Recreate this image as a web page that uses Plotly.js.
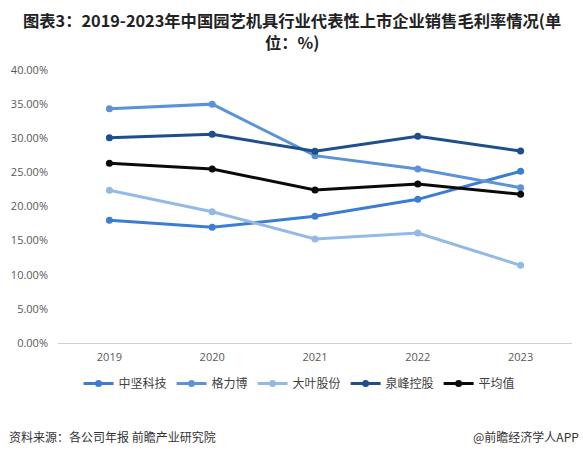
<!DOCTYPE html>
<html>
<head>
<meta charset="utf-8">
<script src="https://cdn.plot.ly/plotly-3.0.1.min.js"></script>
<style>html,body{margin:0;padding:0;background:#fff;}#chart{width:583px;height:456px;}</style>
</head>
<body>
<div id="chart"></div>
<script>
const years = ["2019", "2020", "2021", "2022", "2023"];
const zhongjian = [0.1798, 0.1695, 0.1856, 0.2105, 0.2516];
const gelibo = [0.3433, 0.3500, 0.2745, 0.2550, 0.2276];
const daye = [0.2237, 0.1924, 0.1524, 0.1612, 0.1138];
const quanfeng = [0.3008, 0.3057, 0.2808, 0.3028, 0.2813];
const average = [0.2633, 0.2549, 0.2242, 0.2330, 0.2179];
const seriesNames = ["中坚科技", "格力博", "大叶股份", "泉峰控股", "平均值"];
const seriesValues = [zhongjian, gelibo, daye, quanfeng, average];
const seriesColors = ["#3b7dd1", "#5c92d8", "#93bae6", "#1f4e8c", "#0a0a0a"];

const traces = seriesValues.map((v, i) => ({
  type: "scatter",
  mode: "lines+markers",
  name: seriesNames[i],
  x: years,
  y: v,
  line: {color: seriesColors[i], width: 3},
  marker: {color: seriesColors[i], size: 7}
}));

const cjk = '"Noto Sans CJK SC", "Noto Sans", sans-serif';
const num = '"Open Sans", "DejaVu Sans", sans-serif';
const pageCenter = (291.5 - 58) / 514;
const layout = {
  width: 583, height: 456,
  margin: {l: 58, r: 11, t: 70, b: 113},
  paper_bgcolor: "#ffffff", plot_bgcolor: "#ffffff",
  showlegend: true,
  legend: {
    orientation: "h", x: 0.04, xanchor: "left", y: -0.148, yanchor: "middle",
    font: {family: cjk, size: 12, color: "#404040"},
    itemwidth: 30, tracegroupgap: 0
  },
  xaxis: {
    type: "category", range: [-0.5, 4.5],
    showgrid: false, zeroline: false,
    showline: true, linecolor: "#d0d0d0", linewidth: 1,
    ticks: "", ticklabelstandoff: 4,
    tickfont: {family: num, size: 11, color: "#595959"},
    fixedrange: true
  },
  yaxis: {
    range: [0, 0.4], dtick: 0.05, tick0: 0,
    tickformat: ".2%",
    showgrid: false, zeroline: false, showline: false,
    ticks: "", ticklabelstandoff: 9,
    tickfont: {family: num, size: 11, color: "#595959"},
    fixedrange: true
  },
  annotations: [
    {text: "<b>图表3：2019-2023年中国园艺机具行业代表性上市企业销售毛利率情况(单</b>", xref: "paper", yref: "paper", x: pageCenter, xanchor: "center", y: 1 + 50/273, yanchor: "middle", showarrow: false, font: {family: cjk, size: 16.3, color: "#222222"}},
    {text: "<b>位：%)</b>", xref: "paper", yref: "paper", x: pageCenter, xanchor: "center", y: 1 + 28/273, yanchor: "middle", showarrow: false, font: {family: cjk, size: 16.3, color: "#222222"}},
    {text: "资料来源：各公司年报 前瞻产业研究院", xref: "paper", yref: "paper", x: -0.1, xanchor: "left", y: -0.344, yanchor: "middle", showarrow: false, font: {family: cjk, size: 12, color: "#333333"}},
    {text: "@前瞻经济学人APP", xref: "paper", yref: "paper", x: 1.018, xanchor: "right", y: -0.344, yanchor: "middle", showarrow: false, font: {family: cjk, size: 12, color: "#333333"}}
  ]
};

Plotly.newPlot("chart", traces, layout, {displayModeBar: false, staticPlot: true});
</script>
</body>
</html>
